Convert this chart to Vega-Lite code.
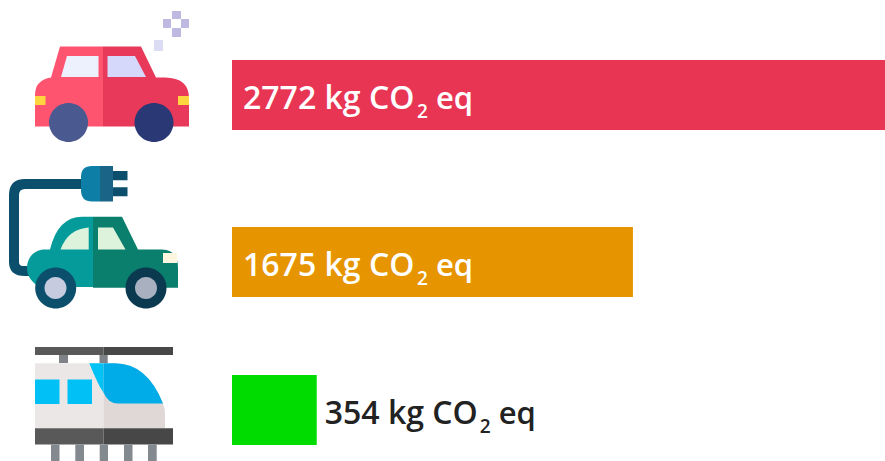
{"$schema":"https://vega.github.io/schema/vega-lite/v6.json","width":653,"height":461,"autosize":{"type":"none"},"padding":{"left":232,"top":0,"right":0,"bottom":0},"background":"white","config":{"view":{"stroke":null}},
"datasets":{"bars":[{"vehicle":"Car","value":2772,"label":"2772 kg CO","inside":true},{"vehicle":"Electric car","value":1675,"label":"1675 kg CO","inside":true},{"vehicle":"Train","value":354,"label":"354 kg CO","inside":false}],
"icons":[{"vehicle":"Car","part":"c1"},{"vehicle":"Car","part":"c2"},{"vehicle":"Car","part":"c3"},{"vehicle":"Car","part":"c4"},{"vehicle":"Car","part":"c5"},{"vehicle":"Car","part":"c6"},{"vehicle":"Car","part":"c7"},{"vehicle":"Car","part":"c8"},{"vehicle":"Car","part":"c9"},
{"vehicle":"Electric car","part":"e1"},{"vehicle":"Electric car","part":"e2"},{"vehicle":"Electric car","part":"e3"},{"vehicle":"Electric car","part":"e4"},{"vehicle":"Electric car","part":"e5"},{"vehicle":"Electric car","part":"e6"},{"vehicle":"Electric car","part":"e7"},{"vehicle":"Electric car","part":"e8"},{"vehicle":"Electric car","part":"e9"},{"vehicle":"Electric car","part":"e10"},{"vehicle":"Electric car","part":"e11"},
{"vehicle":"Train","part":"t1"},{"vehicle":"Train","part":"t2"},{"vehicle":"Train","part":"t3"},{"vehicle":"Train","part":"t4"},{"vehicle":"Train","part":"t5"},{"vehicle":"Train","part":"t6"},{"vehicle":"Train","part":"t7"},{"vehicle":"Train","part":"t8"},{"vehicle":"Train","part":"t9"},{"vehicle":"Train","part":"t10"}]},
"encoding":{"y":{"field":"vehicle","type":"nominal","axis":null,"scale":{"type":"point","domain":["Car","Electric car","Train"],"range":[95,410],"padding":0}}},
"layer":[
{"data":{"name":"bars"},"mark":{"type":"bar","size":70,"yOffset":{"expr":"datum.vehicle==='Electric car'?9.5:0"}},"encoding":{"x":{"field":"value","type":"quantitative","axis":null,"scale":{"domain":[0,2728],"nice":false}},"color":{"field":"vehicle","type":"nominal","legend":null,"scale":{"domain":["Car","Electric car","Train"],"range":["#E93554","#E69500","#00DC00"]}}}},
{"data":{"name":"bars"},"transform":[{"calculate":"datum.inside?0:datum.value","as":"start"}],"mark":{"type":"text","align":"left","baseline":"alphabetic","font":"Open Sans","fontSize":32,"fontWeight":600,"fill":{"expr":"datum.inside?'white':'#222222'"},"dx":{"expr":"datum.inside?11:8"},"dy":13.5,"yOffset":{"expr":"datum.vehicle==='Electric car'?9.5:0"}},"encoding":{"x":{"field":"start","type":"quantitative"},"text":{"field":"label"}}},
{"data":{"name":"bars"},"transform":[{"calculate":"datum.inside?0:datum.value","as":"start"}],"mark":{"type":"text","align":"left","baseline":"alphabetic","font":"Open Sans","fontSize":19,"fontWeight":600,"text":"2","fill":{"expr":"datum.inside?'white':'#222222'"},"dx":{"expr":"datum.inside?185:163"},"dy":23,"yOffset":{"expr":"datum.vehicle==='Electric car'?9.5:0"}},"encoding":{"x":{"field":"start","type":"quantitative"}}},
{"data":{"name":"bars"},"transform":[{"calculate":"datum.inside?0:datum.value","as":"start"}],"mark":{"type":"text","align":"left","baseline":"alphabetic","font":"Open Sans","fontSize":31,"fontWeight":600,"text":"eq","fill":{"expr":"datum.inside?'white':'#222222'"},"dx":{"expr":"datum.inside?204:182"},"dy":13.5,"yOffset":{"expr":"datum.vehicle==='Electric car'?9.5:0"}},"encoding":{"x":{"field":"start","type":"quantitative"}}},
{"data":{"name":"icons"},"mark":{"type":"point","filled":true,"size":4,"opacity":1,"strokeWidth":0,"xOffset":-232,"yOffset":{"expr":"datum.vehicle==='Electric car'?9.5:0"}},"encoding":{"x":{"datum":0,"type":"quantitative"},
"shape":{"field":"part","type":"nominal","legend":null,"scale":{"domain":["c1","c2","c3","c4","c5","c6","c7","c8","c9","e1","e2","e3","e4","e5","e6","e7","e8","e9","e10","e11","t1","t2","t3","t4","t5","t6","t7","t8","t9","t10"],"range":[
"M60,-48.5 L103,-48.5 L103,31.5 L35,31.5 L35,0 Q35,-15 51,-17.5Z",
"M103,-48.5 L141,-48.5 L156,-17.5 L165,-17.5 Q189,-17 189,3 L189,31.5 L103,31.5Z",
"M67,-39 L98.5,-39 L98.5,-18 L61,-18Z",
"M107.5,-39 L135,-39 L146,-18 L107.5,-18Z",
"M35,1 L45.5,1 L45.5,10 L35,10Z M178,1 L189,1 L189,10 L178,10Z",
"M49,27.5 a19.5,19.5 0 1,0 39,0 a19.5,19.5 0 1,0 -39,0Z",
"M134.5,27.5 a19.5,19.5 0 1,0 39,0 a19.5,19.5 0 1,0 -39,0Z",
"M172,-84 L181,-84 L181,-76 L172,-76Z M163,-76 L171,-76 L171,-67 L163,-67Z M181,-76 L189,-76 L189,-67 L181,-67Z M172,-67 L181,-67 L181,-58 L172,-58Z",
"M154,-55 L163,-55 L163,-44 L154,-44Z",
"M82,-83 L25,-83 Q9,-83 9,-67 L9,0 Q9,14 25,14 L32,14 L32,4 L23,4 Q19,4 19,0 L19,-67 Q19,-73 25,-73 L82,-73Z M113,-91 L127.5,-91 L127.5,-81.7 L113,-81.7Z M113,-74.7 L127.5,-74.7 L127.5,-65.7 L113,-65.7Z",
"M100,-96 L92,-96 Q81,-96 81,-85 L81,-72 Q81,-60.5 92,-60.5 L100,-60.5Z",
"M100,-96 L113,-96 L113,-60.5 L100,-60.5Z",
"M93,-45.3 L82,-45.3 Q58,-45.3 50,-12.5 L45,-12.5 C34,-12.5 27,-4 27,6 C27,14 32,21 40,25 L93,25Z",
"M93,-45.3 L122,-45.3 L138,-12.5 L162,-12.5 Q178,-12 178,6 L178,25.7 L93,25.7Z",
"M88.7,-34.5 L88.7,-12.5 L60.5,-12.5 Q68,-33 88.7,-34.5Z M98,-34.5 L113,-34.5 L125.5,-12.5 L98,-12.5Z",
"M163,-9 L177,-9 L177,1 L163,1Z",
"M35.2,26 a20.5,20.5 0 1,0 41,0 a20.5,20.5 0 1,0 -41,0Z",
"M44.5,26 a11,11 0 1,0 22,0 a11,11 0 1,0 -22,0Z",
"M125.5,26 a20.5,20.5 0 1,0 41,0 a20.5,20.5 0 1,0 -41,0Z",
"M135,26 a11,11 0 1,0 22,0 a11,11 0 1,0 -22,0Z",
"M35,-63 L103.5,-63 L103.5,-55 L35,-55Z M35,18.3 L103.5,18.3 L103.5,34.5 L35,34.5Z",
"M103.5,-63 L173,-63 L173,-55 L103.5,-55Z M103.5,18.3 L173,18.3 L173,34.5 L103.5,34.5Z",
"M59,-55 L68,-55 L68,-47 L59,-47Z M99.5,-55 L107.7,-55 L107.7,-47 L99.5,-47Z",
"M51,34.5 L59.5,34.5 L59.5,51 L51,51Z M75.3,34.5 L84,34.5 L84,51 L75.3,51Z M99.7,34.5 L108,34.5 L108,51 L99.7,51Z M124,34.5 L132.5,34.5 L132.5,51 L124,51Z M148,34.5 L156.7,34.5 L156.7,51 L148,51Z",
"M35,-46.7 L103.5,-46.7 L103.5,18 L35,18Z",
"M103.5,-46.7 L115,-46.7 Q147,-46.7 163,-6.5 Q165,-2 165,5 L165,18 L103.5,18Z",
"M89.3,-46.7 L103.5,-46.7 L103.5,-17.5 Q99,-23 89.3,-46.7Z",
"M103.5,-46.7 L115,-46.7 Q147,-46.7 163,-6.5 L118,-6.5 Q108,-6.5 103.5,-17.5Z",
"M35,-30.5 L59.5,-30.5 L59.5,-6 L35,-6Z",
"M67.5,-30.5 L92,-30.5 L92,-6 L67.5,-6Z"]}},
"color":{"field":"part","type":"nominal","legend":null,"scale":{"domain":["c1","c2","c3","c4","c5","c6","c7","c8","c9","e1","e2","e3","e4","e5","e6","e7","e8","e9","e10","e11","t1","t2","t3","t4","t5","t6","t7","t8","t9","t10"],"range":["#FF5470","#E8395A","#ECF1FD","#D5D8FA","#FFD53F","#4A5A90","#2A3876","#BDB9E0","#DCDCF5","#0B4F6C","#0D7FA6","#1A6487","#059B9B","#0A7F6D","#DDF3DB","#FFF6E0","#0B4F6C","#C6CBDF","#0B3A50","#A9B1C1","#595959","#474747","#7F8287","#84888F","#EBE7E7","#E0D7D7","#00C3F5","#00ACE8","#00C0F5","#00C0F5"]}}}}
],"resolve":{"scale":{"color":"independent"}}}
